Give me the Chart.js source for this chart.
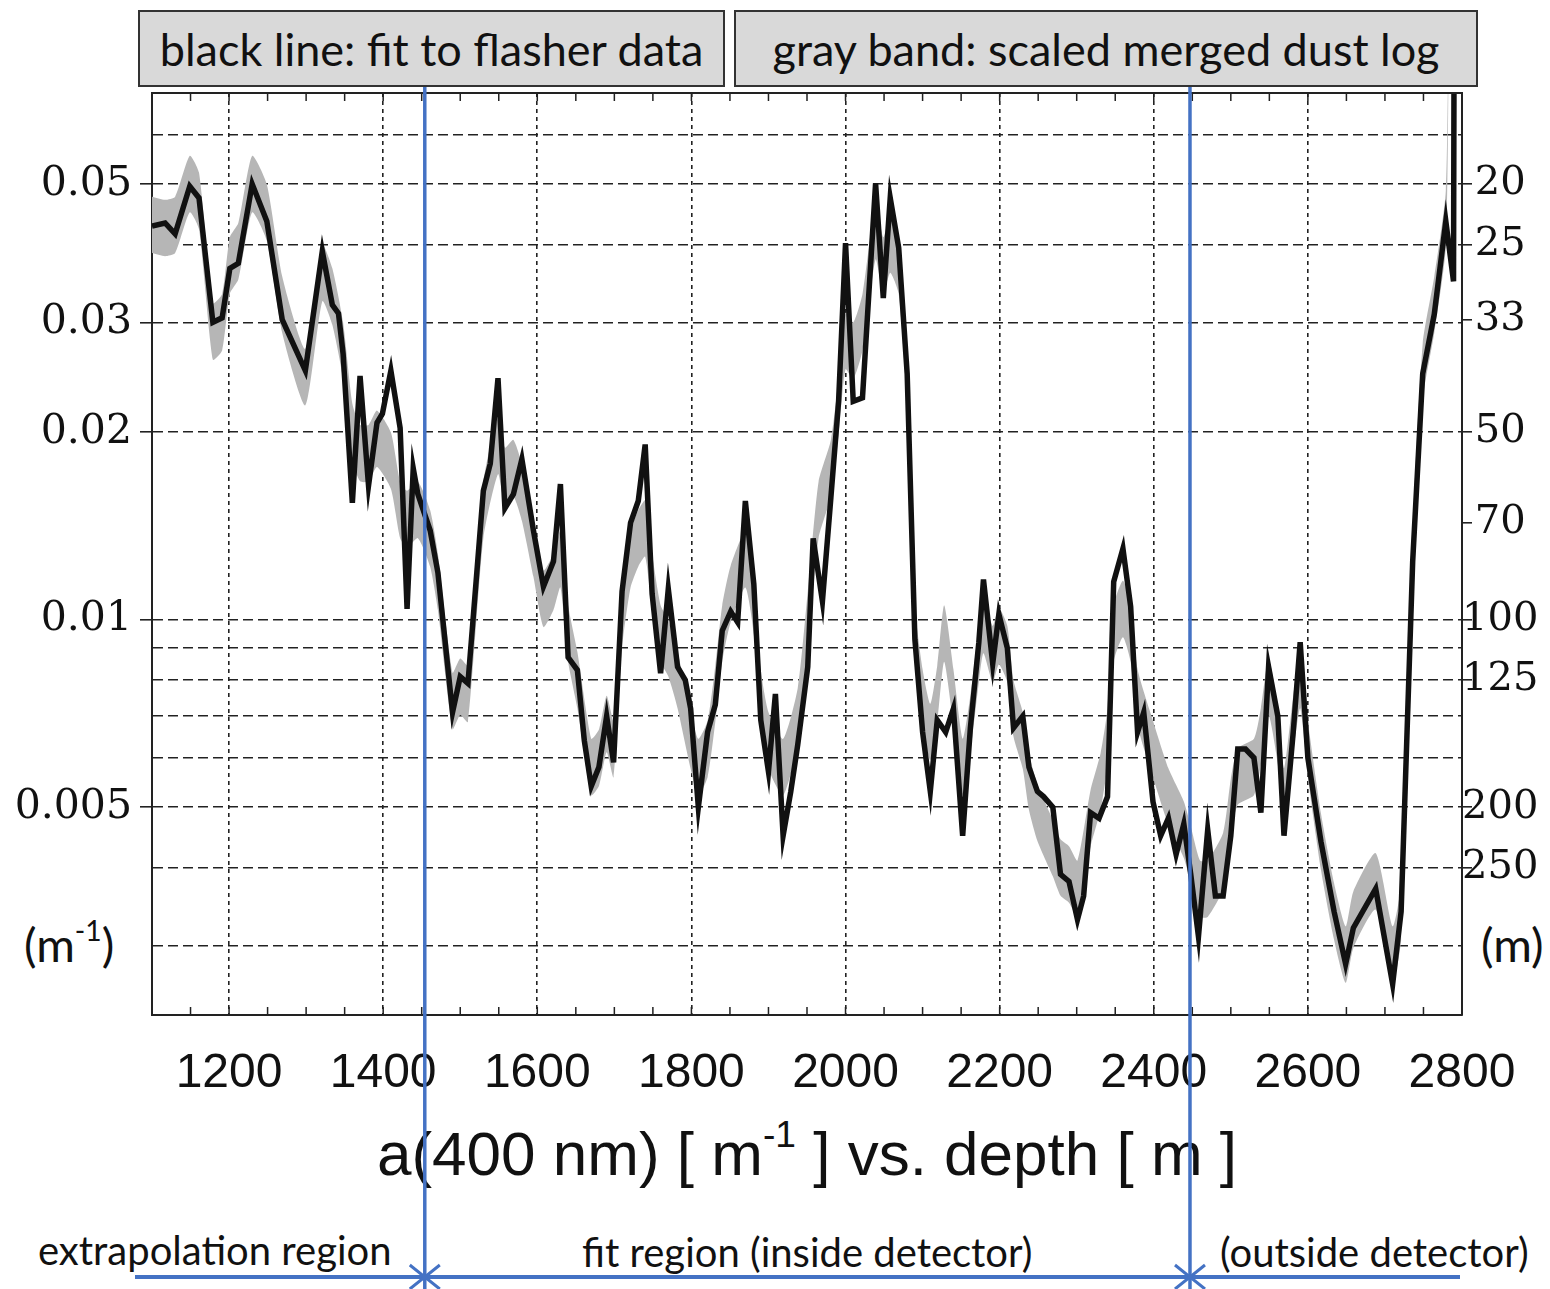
<!DOCTYPE html>
<html>
<head>
<meta charset="utf-8">
<script src="https://cdn.jsdelivr.net/npm/chart.js@4.4.0/dist/chart.umd.min.js"></script>
<style>
  body { margin: 0; background: #fff; }
  #wrap { position: relative; width: 1550px; height: 1289px; overflow: hidden; }
  #chart { position: absolute; left: 0; top: 0; z-index: 2; }
  .box {
    position: absolute; top: 10px; height: 77px; box-sizing: border-box;
    background: #d9d9d9; border: 2px solid #333; color: #111;
    font-family: Lato, sans-serif; font-size: 45px;
    display: flex; align-items: center; justify-content: center; white-space: nowrap;
  }
  .lbl { position: absolute; font-family: Lato, sans-serif; font-size: 40px; color: #111; white-space: nowrap; }
  .unit { font-size: 47px; }
  #title {
    position: absolute; left: 152px; width: 1310px; top: 1118px; text-align: center;
    font-family: "Liberation Sans", Arial, sans-serif; font-size: 62px; color: #111; white-space: nowrap;
  }
  sup { font-size: 0.6em; vertical-align: 0.75em; line-height: 0; }
</style>
</head>
<body>
<div id="wrap">
  <div class="box" style="left:138px; width:587px;">black line: fit to flasher data</div>
  <div class="box" style="left:734px; width:744px;">gray band: scaled merged dust log</div>
  <div class="lbl unit" style="left:24px; top:916px;">(m<sup>-1</sup>)</div>
  <div class="lbl unit" style="left:1481px; top:916px;">(m)</div>
  <div id="title">a(400 nm) [ m<sup>-1</sup> ] vs. depth [ m ]</div>
  <div class="lbl" style="left:38px; top:1226px;">extrapolation region</div>
  <div class="lbl" style="left:582px; top:1228px;">fit region (inside detector)</div>
  <div class="lbl" style="left:1220px; top:1228px;">(outside detector)</div>
  <canvas id="chart" width="1550" height="1289"></canvas>
</div>
<script>
// depth [m] and fitted absorption a(400nm) [1/m]
const depth = [
  1100, 1117, 1130, 1149, 1161, 1179, 1191, 1201, 1212, 1230,
  1249, 1269, 1299, 1321, 1334, 1342, 1348, 1360, 1370, 1381,
  1392, 1399, 1410, 1422, 1431, 1439, 1445, 1461, 1471, 1490,
  1500, 1510, 1530, 1539, 1549, 1558, 1569, 1580, 1595, 1608,
  1621, 1630, 1640, 1652, 1661, 1670, 1680, 1690, 1699, 1710,
  1721, 1731, 1740, 1749, 1760, 1770, 1782, 1792, 1799, 1809,
  1821, 1831, 1840, 1851, 1860, 1870, 1881, 1890, 1900, 1909,
  1919, 1929, 1938, 1951, 1958, 1970, 1981, 1991, 2000, 2010,
  2022, 2039, 2049, 2058, 2069, 2080, 2090, 2100, 2110, 2119,
  2130, 2140, 2152, 2162, 2173, 2179, 2191, 2199, 2210, 2218,
  2230, 2238, 2249, 2257, 2269, 2279, 2290, 2301, 2309, 2318,
  2329, 2340, 2348, 2360, 2370, 2379, 2387, 2399, 2409, 2419,
  2429, 2439, 2448, 2458, 2470, 2480, 2490, 2500, 2509, 2519,
  2530, 2539, 2549, 2561, 2569, 2581, 2590, 2600, 2617, 2634,
  2649, 2659, 2688, 2710, 2721, 2736, 2749, 2764, 2779, 2789,
  2790
];
const fit = [
  0.0428, 0.0433, 0.0416, 0.0496, 0.0475, 0.0300, 0.0305, 0.0366, 0.0373, 0.0500,
  0.0436, 0.0303, 0.0251, 0.0390, 0.0320, 0.0310, 0.0267, 0.0154, 0.0246, 0.0164,
  0.0207, 0.0214, 0.0251, 0.0203, 0.0104, 0.0175, 0.0159, 0.0139, 0.0119, 0.0071,
  0.0081, 0.0079, 0.0161, 0.0178, 0.0244, 0.0151, 0.0159, 0.0181, 0.0139, 0.0113,
  0.0124, 0.0165, 0.0087, 0.0083, 0.0064, 0.0054, 0.0058, 0.0070, 0.0059, 0.0111,
  0.0143, 0.0155, 0.0191, 0.0110, 0.0082, 0.0112, 0.0084, 0.0080, 0.0072, 0.0050,
  0.0066, 0.0073, 0.0096, 0.0103, 0.0099, 0.0155, 0.0114, 0.0069, 0.0057, 0.0076,
  0.0045, 0.0053, 0.0063, 0.0084, 0.0135, 0.0107, 0.0157, 0.0224, 0.0402, 0.0224,
  0.0227, 0.0501, 0.0328, 0.0475, 0.0395, 0.0248, 0.0093, 0.0066, 0.0053, 0.0069,
  0.0066, 0.0072, 0.0045, 0.0067, 0.0092, 0.0116, 0.0085, 0.0102, 0.0090, 0.0067,
  0.0070, 0.0058, 0.0053, 0.0052, 0.0050, 0.0039, 0.0038, 0.0033, 0.0036, 0.0049,
  0.0048, 0.0052, 0.0115, 0.0130, 0.0105, 0.0066, 0.0071, 0.0051, 0.0045, 0.0048,
  0.0042, 0.0047, 0.0039, 0.0031, 0.0046, 0.0036, 0.0036, 0.0045, 0.0062, 0.0062,
  0.0060, 0.0049, 0.0084, 0.0070, 0.0045, 0.0066, 0.0092, 0.0060, 0.0044, 0.0034,
  0.0028, 0.0032, 0.0037, 0.0026, 0.0034, 0.0124, 0.0248, 0.0309, 0.0436, 0.0349,
  0.12
];

// scaled dust log (centre of the gray band)
const dustDepth = [
  1100, 1117, 1130, 1149, 1161, 1179, 1191, 1201, 1212, 1230,
  1249, 1269, 1299, 1321, 1334, 1348, 1360, 1370, 1381, 1392,
  1410, 1422, 1431, 1445, 1461, 1471, 1490, 1500, 1510, 1530,
  1549, 1558, 1569, 1580, 1595, 1608, 1621, 1630, 1640, 1652,
  1670, 1680, 1690, 1699, 1710, 1721, 1731, 1740, 1749, 1760,
  1770, 1782, 1799, 1809, 1821, 1831, 1840, 1851, 1870, 1881,
  1890, 1900, 1919, 1938, 1951, 1965, 1981, 1991, 2000, 2010,
  2022, 2039, 2049, 2058, 2069, 2080, 2090, 2100, 2110, 2119,
  2128, 2140, 2152, 2162, 2173, 2179, 2191, 2199, 2210, 2218,
  2230, 2238, 2249, 2269, 2279, 2290, 2301, 2318, 2331, 2340,
  2348, 2360, 2370, 2379, 2399, 2419, 2439, 2448, 2460, 2470,
  2490, 2500, 2509, 2530, 2539, 2549, 2561, 2569, 2581, 2590,
  2600, 2617, 2634, 2649, 2659, 2688, 2710, 2721, 2736, 2749,
  2764, 2779, 2783
];
const dust = [
  0.0430, 0.0425, 0.0430, 0.0500, 0.0470, 0.0290, 0.0300, 0.0370, 0.0390, 0.0500,
  0.0450, 0.0320, 0.0245, 0.0360, 0.0330, 0.0270, 0.0200, 0.0185, 0.0185, 0.0195,
  0.0180, 0.0150, 0.0145, 0.0150, 0.0135, 0.0115, 0.0074, 0.0078, 0.0076, 0.0150,
  0.0190, 0.0170, 0.0175, 0.0160, 0.0130, 0.0108, 0.0115, 0.0125, 0.0095, 0.0080,
  0.0058, 0.0060, 0.0068, 0.0062, 0.0100, 0.0125, 0.0135, 0.0140, 0.0115, 0.0095,
  0.0090, 0.0080, 0.0064, 0.0058, 0.0062, 0.0076, 0.0095, 0.0110, 0.0125, 0.0105,
  0.0075, 0.0064, 0.0058, 0.0070, 0.0100, 0.0150, 0.0175, 0.0220, 0.0280, 0.0270,
  0.0300, 0.0420, 0.0370, 0.0400, 0.0370, 0.0240, 0.0095, 0.0075, 0.0066, 0.0076,
  0.0095, 0.0075, 0.0058, 0.0068, 0.0088, 0.0098, 0.0088, 0.0094, 0.0088, 0.0072,
  0.0064, 0.0055, 0.0049, 0.0043, 0.0040, 0.0039, 0.0037, 0.0048, 0.0055, 0.0065,
  0.0095, 0.0104, 0.0095, 0.0075, 0.0062, 0.0052, 0.0046, 0.0042, 0.0037, 0.0037,
  0.0041, 0.0050, 0.0056, 0.0058, 0.0065, 0.0078, 0.0065, 0.0052, 0.0068, 0.0080,
  0.0062, 0.0044, 0.0034, 0.0029, 0.0033, 0.0038, 0.0029, 0.0034, 0.0125, 0.0250,
  0.0320, 0.0440, 0.1
];

const gridTicks = [0.003, 0.004, 0.005, 0.006, 0.007, 0.008, 0.009, 0.01, 0.02, 0.03, 0.04, 0.05, 0.06];
const leftLabels = [0.05, 0.03, 0.02, 0.01, 0.005];
const rightLabels = [20, 25, 33, 50, 70, 100, 125, 200, 250]; // 1/a in m
const depthTicks = [1200, 1400, 1600, 1800, 2000, 2200, 2400, 2600, 2800];
const regionEdges = [1454, 2447]; // blue lines: start / end of detector

const bandFactor = 1.11;
const aMin = 0.00232, aMax = 0.07;

const ink = '#222';
const blue = '#4472c4';

const overlay = {
  id: 'overlay',
  afterDraw(chart) {
    const { ctx, chartArea: a, scales: { x } } = chart;
    ctx.save();
    // top frame
    ctx.strokeStyle = ink;
    ctx.lineWidth = 2;
    ctx.beginPath();
    ctx.moveTo(a.left, a.top);
    ctx.lineTo(a.right, a.top);
    ctx.stroke();
    // small inside ticks every 50 m
    ctx.lineWidth = 1.5;
    for (let d = 1150; d < 2800; d += 50) {
      const px = x.getPixelForValue(d);
      ctx.beginPath();
      ctx.moveTo(px, a.bottom); ctx.lineTo(px, a.bottom - 8);
      ctx.moveTo(px, a.top); ctx.lineTo(px, a.top + 8);
      ctx.stroke();
    }
    // blue region markers
    ctx.strokeStyle = blue;
    ctx.lineWidth = 3.5;
    const edges = regionEdges.map(d => x.getPixelForValue(d));
    edges.forEach(px => {
      ctx.beginPath();
      ctx.moveTo(px, 87);
      ctx.lineTo(px, chart.height);
      ctx.stroke();
    });
    const ay = 1277;
    ctx.lineWidth = 4;
    ctx.beginPath();
    ctx.moveTo(135, ay);
    ctx.lineTo(1460, ay);
    ctx.stroke();
    ctx.lineWidth = 3;
    edges.forEach(px => {
      ctx.beginPath();
      ctx.moveTo(px - 15, ay - 12); ctx.lineTo(px, ay); ctx.lineTo(px - 15, ay + 12);
      ctx.moveTo(px + 15, ay - 12); ctx.lineTo(px, ay); ctx.lineTo(px + 15, ay + 12);
      ctx.stroke();
    });
    ctx.restore();
  }
};

new Chart(document.getElementById('chart'), {
  type: 'line',
  data: {
    datasets: [
      {
        // index 0 is drawn last, so the fit sits on top of the band
        label: 'fit',
        data: depth.map((d, i) => ({ x: d, y: fit[i] })),
        borderColor: '#111',
        borderWidth: 5.5,
        pointRadius: 0,
        fill: false,
        tension: 0
      },
      {
        label: 'dust upper',
        data: dustDepth.map((d, i) => ({ x: d, y: dust[i] * bandFactor })),
        borderWidth: 0,
        pointRadius: 0,
        fill: false,
        tension: 0.2
      },
      {
        label: 'dust lower',
        data: dustDepth.map((d, i) => ({ x: d, y: dust[i] / bandFactor })),
        borderWidth: 0,
        pointRadius: 0,
        backgroundColor: '#b6b6b6',
        fill: '-1',
        tension: 0.2
      }
    ]
  },
  options: {
    responsive: false,
    animation: false,
    layout: { padding: { top: 93, left: 0, right: 0, bottom: 0 } },
    plugins: { legend: { display: false }, tooltip: { enabled: false } },
    scales: {
      x: {
        type: 'linear',
        min: 1100,
        max: 2800,
        afterBuildTicks: s => { s.ticks = depthTicks.map(v => ({ value: v })); },
        afterFit: s => { s.height = 274; },
        grid: { color: ink, lineWidth: 1.6, drawTicks: false },
        border: { display: true, color: ink, width: 2, dash: [4, 4] },
        ticks: {
          font: { family: 'Liberation Sans', size: 48 },
          color: '#111',
          padding: 30,
          maxRotation: 0,
          autoSkip: false,
          callback: v => String(v)
        }
      },
      y: {
        type: 'logarithmic',
        position: 'left',
        min: aMin,
        max: aMax,
        afterBuildTicks: s => { s.ticks = gridTicks.map(v => ({ value: v })); },
        afterFit: s => { s.width = 152; },
        grid: {
          color: ink,
          lineWidth: 1.6,
          tickLength: 12,
          tickBorderDash: [],
          tickColor: c => (c.tick && leftLabels.includes(c.tick.value)) ? ink : 'rgba(0,0,0,0)'
        },
        border: { display: true, color: ink, width: 2, dash: [10, 5] },
        ticks: {
          font: { family: 'DejaVu Serif', size: 41 },
          color: '#111',
          padding: 8,
          autoSkip: false,
          callback: v => leftLabels.includes(v) ? String(v) : ''
        }
      },
      y2: {
        type: 'logarithmic',
        position: 'right',
        min: aMin,
        max: aMax,
        afterBuildTicks: s => { s.ticks = rightLabels.map(v => ({ value: 1 / v })); },
        afterFit: s => { s.width = 88; },
        grid: { drawOnChartArea: false, color: ink, lineWidth: 1.6, tickLength: 10, tickBorderDash: [] },
        border: { display: true, color: ink, width: 2 },
        ticks: {
          font: { family: 'DejaVu Serif', size: 40 },
          color: '#111',
          padding: -10,
          crossAlign: 'center',
          autoSkip: false,
          callback: (v, i) => String(rightLabels[i])
        }
      }
    }
  },
  plugins: [overlay]
});
</script>
</body>
</html>
